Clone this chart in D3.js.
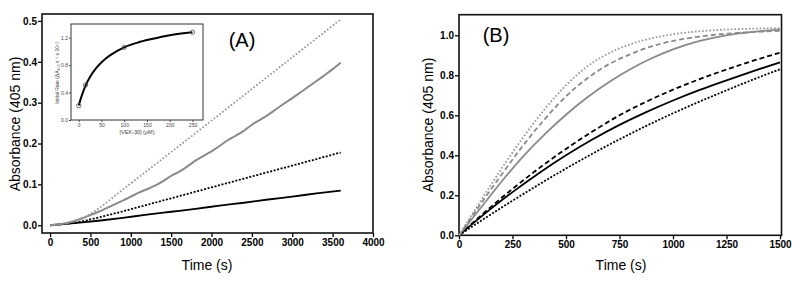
<!DOCTYPE html>
<html>
<head>
  <meta charset='utf-8'>
  <script src="https://cdn.jsdelivr.net/npm/d3@7"></script>
  <style>
    body { margin: 0; background: #fff; }
    text { font-family: "Liberation Sans", Arial, sans-serif; }
    .tk text { font-weight: bold; font-size: 10px; }
  </style>
</head>
<body>
<script>
  // ---- panel A data (time in s, absorbance) ----
  let tA = [0, 300, 600, 900, 1200, 1500, 1800, 2100, 2400, 2700, 3000, 3300, 3600]
  let aBlackSolid = [0, 0.005, 0.011, 0.018, 0.026, 0.033, 0.040, 0.048, 0.055, 0.063, 0.070, 0.078, 0.085]
  let aBlackDot = [0, 0.006, 0.019, 0.034, 0.050, 0.066, 0.082, 0.098, 0.114, 0.130, 0.146, 0.162, 0.178]
  let tAgd = [0, 150, 300, 450, 600, 900, 1200, 1800, 2400, 3000, 3600]
  let aGrayDot = [0, 0.004, 0.011, 0.022, 0.041, 0.087, 0.133, 0.225, 0.318, 0.411, 0.504]
  let tAgs = d3.range(0, 3700, 100)
  let aGraySolid = [0, 0.002, 0.005, 0.010, 0.017, 0.025, 0.033, 0.042, 0.051, 0.060, 0.070,
    0.080, 0.088, 0.097, 0.108, 0.121, 0.131, 0.144, 0.158, 0.170, 0.181, 0.194, 0.208, 0.219,
    0.231, 0.246, 0.258, 0.270, 0.284, 0.298, 0.311, 0.325, 0.339, 0.353, 0.367, 0.382, 0.398]

  // ---- inset data ----
  let insX = [0, 15, 100, 250]
  let insY = [0.21, 0.51, 1.06, 1.28]
  let fitX = [0, 5, 10, 15, 25, 40, 60, 80, 100, 130, 160, 200, 250]
  let fitY = [0.21, 0.323, 0.418, 0.50, 0.63, 0.77, 0.90, 0.99, 1.06, 1.13, 1.18, 1.236, 1.28]

  // ---- panel B data ----
  let tB = d3.range(0, 1600, 100)
  let bGrayDot = [0, 0.17, 0.335, 0.49, 0.63, 0.75, 0.845, 0.91, 0.955, 0.985, 1.005, 1.018, 1.026, 1.031, 1.034, 1.036]
  let bGrayDash = [0, 0.155, 0.305, 0.45, 0.58, 0.695, 0.785, 0.855, 0.905, 0.945, 0.972, 0.99, 1.003, 1.012, 1.018, 1.022]
  let bGraySolid = [0, 0.135, 0.27, 0.395, 0.505, 0.603, 0.69, 0.765, 0.83, 0.885, 0.93, 0.965, 0.99, 1.008, 1.02, 1.028]
  let tB2 = d3.range(0, 1501, 125)
  let bBlackDash = [0, 0.12, 0.232, 0.336, 0.432, 0.52, 0.60, 0.668, 0.728, 0.781, 0.829, 0.873, 0.913]
  let bBlackSolid = [0, 0.112, 0.216, 0.312, 0.40, 0.48, 0.552, 0.616, 0.674, 0.727, 0.775, 0.821, 0.865]
  let bBlackDot = [0, 0.088, 0.173, 0.255, 0.334, 0.409, 0.48, 0.547, 0.61, 0.669, 0.725, 0.779, 0.83]

  let ticksAx = d3.range(0, 4001, 500)
  let ticksAy = [0, 0.1, 0.2, 0.3, 0.4, 0.5]
  let ticksBx = d3.range(0, 1501, 250)
  let ticksBy = [0, 0.2, 0.4, 0.6, 0.8, 1.0]

  let svg = d3.select('body').append('svg').attr('width', 800).attr('height', 281)

  function zip(xs, ys) { return xs.map((x, i) => [x, ys[i]]) }

  // generic panel with frame + outward ticks
  function panel(x0, x1, y0, y1, xd, yd, xt, yt, xfmt, yfmt) {
    let xs = d3.scaleLinear().domain(xd).range([x0, x1])
    let ys = d3.scaleLinear().domain(yd).range([y1, y0])
    let g = svg.append('g')
    g.append('g').attr('class', 'tk').attr('transform', 'translate(0,' + y1 + ')')
      .call(d3.axisBottom(xs).tickValues(xt).tickFormat(xfmt).tickSize(4).tickPadding(2))
    g.append('g').attr('class', 'tk').attr('transform', 'translate(' + x0 + ',0)')
      .call(d3.axisLeft(ys).tickValues(yt).tickFormat(yfmt).tickSize(4).tickPadding(1))
    g.selectAll('.domain').remove()
    g.selectAll('.tick line').attr('stroke', '#000').attr('stroke-width', 1.3)
    g.append('rect').attr('x', x0).attr('y', y0).attr('width', x1 - x0).attr('height', y1 - y0)
      .attr('fill', 'none').attr('stroke', '#111').attr('stroke-width', 1.6)
    return { xs, ys, g }
  }

  function drawLine(p, xs, ys, color, dash, w) {
    let line = d3.line().x(d => p.xs(d[0])).y(d => p.ys(d[1])).curve(d3.curveMonotoneX)
    svg.append('path').datum(zip(xs, ys))
      .attr('fill', 'none').attr('stroke', color).attr('stroke-width', w || 1.8)
      .attr('stroke-dasharray', dash).attr('d', line)
  }

  // ---- panel A ----
  let pA = panel(42, 373, 14, 233, [-100, 4000], [-0.019, 0.517], ticksAx, ticksAy, d3.format('d'), d3.format('.1f'))
  drawLine(pA, tA, aBlackSolid, '#000', null, 1.8)
  drawLine(pA, tA, aBlackDot, '#000', '2,1.6', 1.8)
  drawLine(pA, tAgs, aGraySolid, '#8a8a8a', null, 2)
  drawLine(pA, tAgd, aGrayDot, '#959595', '1.6,2', 1.8)

  svg.append('text').attr('x', 242).attr('y', 47).attr('text-anchor', 'middle')
    .style('font-size', '20px').text('(A)')
  svg.append('text').attr('transform', 'translate(20,124) rotate(-90)').attr('text-anchor', 'middle')
    .style('font-size', '14px').text('Absorbance (405 nm)')
  svg.append('text').attr('x', 207).attr('y', 270).attr('text-anchor', 'middle')
    .style('font-size', '14px').text('Time (s)')

  // ---- inset ----
  let ix = d3.scaleLinear().domain([-17, 273]).range([71, 203])
  let iy = d3.scaleLinear().domain([0, 1.4]).range([120, 24])
  svg.append('rect').attr('x', 71).attr('y', 24).attr('width', 132).attr('height', 96)
    .attr('fill', '#fff').attr('stroke', '#333').attr('stroke-width', 1)
  let ig = svg.append('g')
  ig.append('g').attr('transform', 'translate(0,120)')
    .call(d3.axisBottom(ix).tickValues([0, 50, 100, 150, 200, 250]).tickSize(2).tickPadding(1))
  ig.append('g').attr('transform', 'translate(71,0)')
    .call(d3.axisLeft(iy).tickValues([0, 0.4, 0.8, 1.2]).tickFormat(d3.format('.1f')).tickSize(2).tickPadding(1))
  ig.selectAll('.domain').remove()
  ig.selectAll('text').style('font-size', '5px').attr('fill', '#444')
  ig.selectAll('.tick line').attr('stroke', '#444')
  svg.append('path').datum(zip(fitX, fitY)).attr('fill', 'none').attr('stroke', '#000').attr('stroke-width', 2)
    .attr('d', d3.line().x(d => ix(d[0])).y(d => iy(d[1])).curve(d3.curveMonotoneX))
  svg.selectAll('.ipt').data(zip(insX, insY)).enter().append('circle')
    .attr('cx', d => ix(d[0])).attr('cy', d => iy(d[1])).attr('r', 2.2)
    .attr('fill', 'none').attr('stroke', '#555').attr('stroke-width', 0.8)
  svg.append('text').attr('x', 137).attr('y', 134).attr('text-anchor', 'middle')
    .style('font-size', '5.5px').attr('fill', '#444').text('[VEK-30] (\u03bcM)')
  svg.append('text').attr('transform', 'translate(59,73) rotate(-90)').attr('text-anchor', 'middle')
    .style('font-size', '5px').attr('fill', '#444')
    .text('Initial Rate (\u0394A\u2084\u2080\u2085 s\u207b\u00b9 x 10\u2075)')

  // ---- panel B ----
  let pB = panel(459, 781.5, 14.7, 235.3, [0, 1507], [0, 1.103], ticksBx, ticksBy, d3.format('d'), d3.format('.1f'))
  drawLine(pB, tB2, bBlackDot, '#000', '2,1.6', 1.8)
  drawLine(pB, tB2, bBlackSolid, '#000', null, 1.8)
  drawLine(pB, tB2, bBlackDash, '#000', '5,3', 1.8)
  drawLine(pB, tB, bGraySolid, '#8a8a8a', null, 1.8)
  drawLine(pB, tB, bGrayDash, '#8a8a8a', '5,3', 1.8)
  drawLine(pB, tB, bGrayDot, '#959595', '1.6,2', 1.8)

  svg.append('text').attr('x', 496).attr('y', 42).attr('text-anchor', 'middle')
    .style('font-size', '20px').text('(B)')
  svg.append('text').attr('transform', 'translate(433,125) rotate(-90)').attr('text-anchor', 'middle')
    .style('font-size', '14px').text('Absorbance (405 nm)')
  svg.append('text').attr('x', 621).attr('y', 270).attr('text-anchor', 'middle')
    .style('font-size', '14px').text('Time (s)')
</script>
</body>
</html>
